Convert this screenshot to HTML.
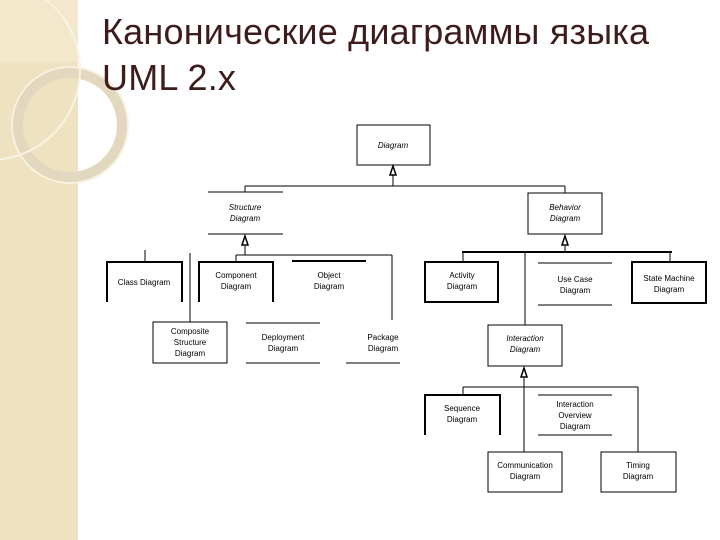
<!DOCTYPE html>
<html><head><meta charset="utf-8"><style>
body{margin:0;width:720px;height:540px;overflow:hidden;background:#fff;position:relative;font-family:"Liberation Sans",sans-serif}
.side{position:absolute;left:0;top:0;width:78px;height:540px;background:#efe2c0}
h1{position:absolute;left:102px;top:9px;margin:0;font-weight:normal;font-size:36px;line-height:46px;color:#3e1c1c;letter-spacing:0.2px}
svg{position:absolute;left:0;top:0}
</style></head><body>
<div class="side"></div>
<svg width="720" height="540">
<rect x="0" y="0" width="78" height="62" fill="#f3e8cc"/>
<circle cx="70" cy="125" r="58" fill="none" stroke="#f8f1de" stroke-width="2"/>
<circle cx="70" cy="125" r="52" fill="none" stroke="#e2d8bf" stroke-width="10"/>
<circle cx="-10" cy="70" r="90" fill="none" stroke="#f9f3e2" stroke-width="2"/>
<g stroke="#000" fill="none" stroke-width="1">
<rect x="357" y="125" width="73" height="40"/>
<line x1="393" y1="172" x2="393" y2="186"/>
<line x1="245" y1="186" x2="565" y2="186"/>
<line x1="565" y1="186" x2="565" y2="193"/>
<line x1="208" y1="192" x2="283" y2="192"/>
<line x1="208" y1="234" x2="283" y2="234"/>
<line x1="245" y1="186" x2="245" y2="192"/>
<line x1="245" y1="246" x2="245" y2="255"/>
<line x1="236" y1="255" x2="392" y2="255"/>
<line x1="392" y1="255" x2="392" y2="320"/>
<line x1="145" y1="250" x2="145" y2="262"/>
<path d="M107 302 V262 H182 V302" stroke-width="2"/>
<line x1="190" y1="253" x2="190" y2="322"/>
<rect x="153" y="322" width="74" height="41"/>
<line x1="236" y1="255" x2="236" y2="262"/>
<path d="M199 302 V262 H273 V302" stroke-width="2"/>
<line x1="292" y1="261" x2="366" y2="261" stroke-width="2"/>
<line x1="246" y1="323" x2="320" y2="323"/>
<line x1="246" y1="363" x2="320" y2="363"/>
<line x1="346" y1="363" x2="400" y2="363"/>
<rect x="528" y="193" width="74" height="41"/>
<line x1="565" y1="246" x2="565" y2="252"/>
<line x1="462" y1="252" x2="672" y2="252" stroke-width="2"/>
<line x1="463" y1="252" x2="463" y2="262"/>
<rect x="425" y="262" width="73" height="40" stroke-width="2"/>
<line x1="538" y1="263" x2="612" y2="263"/>
<line x1="538" y1="305" x2="612" y2="305"/>
<line x1="670" y1="252" x2="670" y2="262"/>
<rect x="632" y="262" width="74" height="41" stroke-width="2"/>
<line x1="525" y1="252" x2="525" y2="325"/>
<rect x="488" y="325" width="74" height="41"/>
<line x1="524" y1="378" x2="524" y2="452"/>
<line x1="463" y1="387" x2="638" y2="387"/>
<line x1="463" y1="387" x2="463" y2="395"/>
<path d="M425 435 V395 H500 V435" stroke-width="2"/>
<line x1="538" y1="395" x2="612" y2="395"/>
<line x1="538" y1="435" x2="612" y2="435"/>
<rect x="488" y="452" width="74" height="40"/>
<line x1="638" y1="387" x2="638" y2="452"/>
<rect x="601" y="452" width="75" height="40"/>
<path d="M390 175 L393 166 L396 175 Z" fill="#fff" stroke-width="1.5"/>
<path d="M242 245 L245 236 L248 245 Z" fill="#fff" stroke-width="1.5"/>
<path d="M562 245 L565 236 L568 245 Z" fill="#fff" stroke-width="1.5"/>
<path d="M521 377 L524 368 L527 377 Z" fill="#fff" stroke-width="1.5"/>
</g>
<g font-family="Liberation Sans, sans-serif" font-size="8" text-anchor="middle" fill="#000">
<text x="393" y="148" font-style="italic">Diagram</text>
<text x="245" y="210" font-style="italic">Structure</text><text x="245" y="221" font-style="italic">Diagram</text>
<text x="565" y="210" font-style="italic">Behavior</text><text x="565" y="221" font-style="italic">Diagram</text>
<text x="144" y="285">Class Diagram</text>
<text x="236" y="278">Component</text><text x="236" y="289">Diagram</text>
<text x="329" y="278">Object</text><text x="329" y="289">Diagram</text>
<text x="190" y="334">Composite</text><text x="190" y="345">Structure</text><text x="190" y="356">Diagram</text>
<text x="283" y="340">Deployment</text><text x="283" y="351">Diagram</text>
<text x="383" y="340">Package</text><text x="383" y="351">Diagram</text>
<text x="462" y="278">Activity</text><text x="462" y="289">Diagram</text>
<text x="575" y="282">Use Case</text><text x="575" y="293">Diagram</text>
<text x="669" y="281">State Machine</text><text x="669" y="292">Diagram</text>
<text x="525" y="341" font-style="italic">Interaction</text><text x="525" y="352" font-style="italic">Diagram</text>
<text x="462" y="411">Sequence</text><text x="462" y="422">Diagram</text>
<text x="575" y="407">Interaction</text><text x="575" y="418">Overview</text><text x="575" y="429">Diagram</text>
<text x="525" y="468">Communication</text><text x="525" y="479">Diagram</text>
<text x="638" y="468">Timing</text><text x="638" y="479">Diagram</text>
</g>
</svg>
<h1>Канонические диаграммы языка<br>UML 2.x</h1>
</body></html>
